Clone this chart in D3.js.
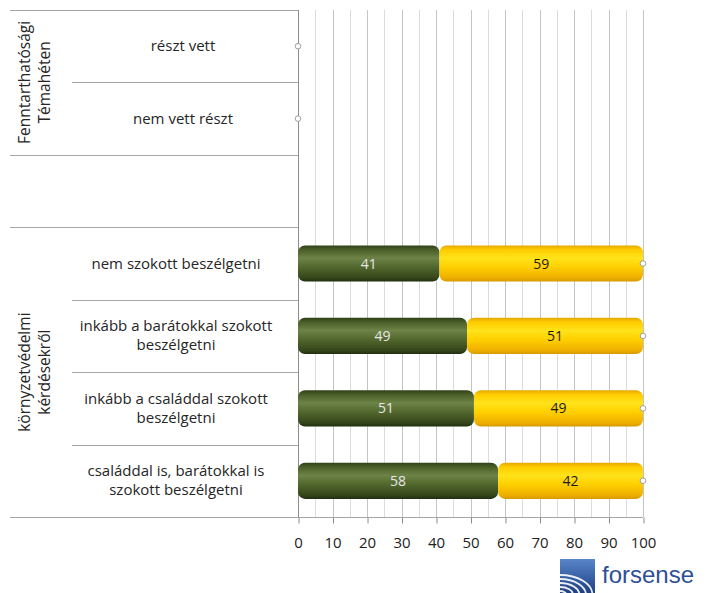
<!DOCTYPE html>
<html><head><meta charset="utf-8">
<script src="https://cdn.jsdelivr.net/npm/d3@7"></script>
<style>body{margin:0;background:#fff}svg{display:block}</style>
</head><body><div id="chart"></div>
<script>
const categories = [
  "részt vett",
  "nem vett részt",
  "",
  "nem szokott beszélgetni",
  "inkább a barátokkal szokott|beszélgetni",
  "inkább a családdal szokott|beszélgetni",
  "családdal is, barátokkal is|szokott beszélgetni"
];
const groupLabels = ["Fenntarthatósági|Témahéten", "környzetvédelmi|kérdésekről"];
const groupSpans = [[0, 1], [3, 6]];
const seriesGreen = [null, null, null, 41, 49, 51, 58];
const seriesYellow = [null, null, null, 59, 51, 49, 42];
const markerValues = [0, 0, null, 100, 100, 100, 100];
const tickValues = [0, 10, 20, 30, 40, 50, 60, 70, 80, 90, 100];

const W = 713, H = 593;
const M = {left: 298, right: 70, top: 10, bottom: 76};
const FONT = "'Open Sans', Lato, 'Noto Sans', sans-serif";
const svg = d3.select("#chart").append("svg").attr("width", W).attr("height", H);
const defs = svg.append("defs");

function grad(id, stops) {
  const g = defs.append("linearGradient").attr("id", id).attr("x1", 0).attr("y1", 0).attr("x2", 0).attr("y2", 1);
  stops.forEach(s => g.append("stop").attr("offset", s[0]).attr("stop-color", s[1]));
}
grad("gGreen", [[0, "#2f4017"], [0.12, "#4a5f28"], [0.35, "#6e8347"], [0.6, "#52672d"], [0.9, "#34461a"], [1, "#222e10"]]);
grad("gYellow", [[0, "#e5a800"], [0.12, "#ffcc00"], [0.35, "#ffe31a"], [0.6, "#ffd000"], [0.9, "#eeae00"], [1, "#d69a00"]]);

const x = d3.scaleLinear().domain([0, 100]).range([M.left, 643]);
const y = d3.scaleBand().domain(d3.range(categories.length)).range([M.top, H - M.bottom]).paddingInner(0).paddingOuter(0);
const bw = y.bandwidth() * 0.5;

// gridlines every 5
const g = svg.append("g");
g.selectAll("line.grid").data(d3.range(5, 101, 5)).join("line")
  .attr("x1", d => Math.round(x(d)) + 0.5).attr("x2", d => Math.round(x(d)) + 0.5)
  .attr("y1", M.top).attr("y2", y.range()[1])
  .attr("stroke", d => d % 10 === 0 ? "#c4c4c4" : "#dcdcdc").attr("stroke-width", 1);

// table lines
const bottomY = y.range()[1];
const lines = [];
categories.forEach((c, i) => {
  const full = (i === 0 || i === 2 || i === 3);
  lines.push({y: y(i), x1: full ? 10 : 72});
});
lines.push({y: bottomY, x1: 10});
g.selectAll("line.tbl").data(lines).join("line")
  .attr("x1", d => d.x1).attr("x2", M.left)
  .attr("y1", d => Math.round(d.y) + 0.5).attr("y2", d => Math.round(d.y) + 0.5)
  .attr("stroke", "#a6a6a6");
g.append("line").attr("x1", M.left).attr("x2", x(100)).attr("y1", Math.round(bottomY) + 0.5).attr("y2", Math.round(bottomY) + 0.5).attr("stroke", "#a6a6a6");
g.append("line").attr("x1", x(0) + 0.5).attr("x2", x(0) + 0.5).attr("y1", M.top).attr("y2", bottomY).attr("stroke", "#8c8c8c");

// x axis
const ax = svg.append("g").attr("transform", `translate(0,${Math.round(bottomY) + 0.5})`)
  .call(d3.axisBottom(x).tickValues(tickValues).tickSize(6).tickPadding(14).tickFormat(d3.format("d")));
ax.select(".domain").remove();
ax.selectAll(".tick line").attr("stroke", "#8c8c8c").attr("transform", "translate(0.5,0)");
ax.selectAll(".tick text").attr("font-family", FONT).attr("font-size", 15).attr("fill", "#222");

// bars
const rows = categories.map((c, i) => ({i, g: seriesGreen[i], yv: seriesYellow[i]})).filter(d => d.g != null);
const bars = svg.append("g");
bars.selectAll("rect.green").data(rows).join("rect")
  .attr("x", d => x(0)).attr("width", d => x(d.g) - x(0))
  .attr("y", d => y(d.i) + (y.bandwidth() - bw) / 2).attr("height", bw)
  .attr("rx", 7).attr("fill", "url(#gGreen)");
bars.selectAll("rect.yellow").data(rows).join("rect")
  .attr("x", d => x(d.g)).attr("width", d => x(d.g + d.yv) - x(d.g))
  .attr("y", d => y(d.i) + (y.bandwidth() - bw) / 2).attr("height", bw)
  .attr("rx", 7).attr("fill", "url(#gYellow)");
bars.selectAll("text.gl").data(rows).join("text")
  .attr("x", d => (x(0) + x(d.g)) / 2).attr("y", d => y(d.i) + y.bandwidth() / 2 + 5)
  .attr("text-anchor", "middle").attr("font-family", FONT).attr("font-size", 14)
  .attr("fill", "#e6e6e6").text(d => d.g);
bars.selectAll("text.yl").data(rows).join("text")
  .attr("x", d => (x(d.g) + x(d.g + d.yv)) / 2).attr("y", d => y(d.i) + y.bandwidth() / 2 + 5)
  .attr("text-anchor", "middle").attr("font-family", FONT).attr("font-size", 14)
  .attr("fill", "#1a1a1a").text(d => d.yv);

// markers
const mk = markerValues.map((v, i) => ({v, i})).filter(d => d.v != null);
svg.append("g").selectAll("circle").data(mk).join("circle")
  .attr("cx", d => x(d.v)).attr("cy", d => y(d.i) + y.bandwidth() / 2)
  .attr("r", 2.8).attr("fill", "#fff").attr("stroke", "#a0a0a0").attr("stroke-width", 1);

// category labels
const catG = svg.append("g");
categories.forEach((c, i) => {
  if (!c) return;
  const parts = c.split("|");
  const cy = y(i) + y.bandwidth() / 2;
  const lh = 19;
  const t = catG.append("text").attr("text-anchor", "middle").attr("font-family", FONT)
    .attr("font-size", 15).attr("fill", "#262626");
  parts.forEach((p, k) => {
    t.append("tspan").attr("x", i < 2 ? 183 : 176).attr("y", cy + 5 + (k - (parts.length - 1) / 2) * lh).text(p);
  });
});

// group labels (rotated)
groupLabels.forEach((gl, j) => {
  const parts = gl.split("|");
  const s = groupSpans[j];
  const cy = (y(s[0]) + y(s[1]) + y.bandwidth()) / 2;
  const t = svg.append("text").attr("text-anchor", "middle").attr("font-family", FONT)
    .attr("font-size", 15.5).attr("fill", "#262626")
    .attr("transform", `translate(0,${cy}) rotate(-90)`);
  parts.forEach((p, k) => {
    t.append("tspan").attr("x", 0).attr("y", 30 + k * 20).text(p);
  });
});

// forsense logo
const lg = svg.append("g").attr("transform", "translate(560,559)");
const lgGrad = defs.append("linearGradient").attr("id", "lgB").attr("x1", 0).attr("y1", 0).attr("x2", 0).attr("y2", 1);
lgGrad.append("stop").attr("offset", 0).attr("stop-color", "#5a86c8");
lgGrad.append("stop").attr("offset", 0.5).attr("stop-color", "#3a63a8");
lgGrad.append("stop").attr("offset", 1).attr("stop-color", "#1f3f80");
lg.append("clipPath").attr("id", "lgClip").append("rect").attr("width", 35).attr("height", 34);
lg.append("rect").attr("width", 35).attr("height", 34).attr("fill", "url(#lgB)");
const arcs = lg.append("g").attr("clip-path", "url(#lgClip)");
[5, 10, 15, 20, 25].forEach(r => {
  arcs.append("ellipse").attr("cx", 0).attr("cy", 36).attr("rx", r * 1.3).attr("ry", r * 0.8)
    .attr("fill", "none").attr("stroke", "#fff").attr("stroke-width", 1.8).attr("opacity", 0.9);
});
svg.append("text").attr("x", 602).attr("y", 583).attr("font-family", "'Liberation Sans', Arial, sans-serif")
  .attr("font-size", 24).attr("fill", "#2e4f95").text("forsense");
</script></body></html>
